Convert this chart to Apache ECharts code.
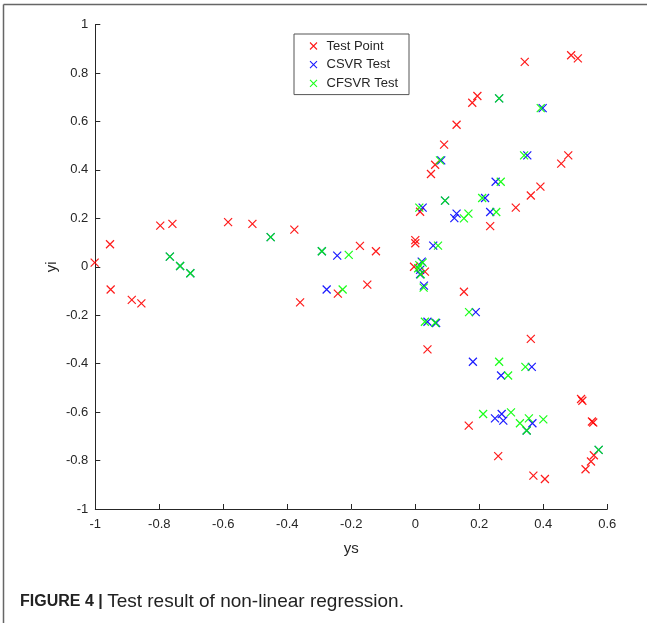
<!DOCTYPE html>
<html>
<head>
<meta charset="utf-8">
<script src="https://cdn.jsdelivr.net/npm/echarts@6/dist/echarts.min.js"></script>
<style>
  html, body { margin: 0; padding: 0; background: #fff; }
  #chart { width: 647px; height: 623px; }
</style>
</head>
<body>
<div id="chart"></div>
<script>
// series names
const seriesNames = ['Test Point', 'CSVR Test', 'CFSVR Test']

// test points [ys, yi]
const testPoint = [
  [-1.002, 0.017], [-0.954, 0.093], [-0.952, -0.094], [-0.886, -0.137], [-0.856, -0.151],
  [-0.797, 0.170], [-0.759, 0.177], [-0.585, 0.184], [-0.509, 0.177], [-0.378, 0.153],
  [-0.360, -0.147], [-0.242, -0.111], [-0.173, 0.086], [-0.150, -0.074], [-0.123, 0.064],
  [-0.004, 0.000], [0.000, 0.110], [0.000, 0.097], [0.015, 0.227], [0.030, -0.020],
  [0.038, -0.341], [0.049, 0.383], [0.062, 0.421], [0.090, 0.504], [0.129, 0.586],
  [0.152, -0.103], [0.167, -0.656], [0.178, 0.677], [0.194, 0.705], [0.234, 0.168],
  [0.259, -0.782], [0.314, 0.244], [0.342, 0.846], [0.361, 0.294], [0.361, -0.298],
  [0.369, -0.862], [0.391, 0.331], [0.405, -0.876], [0.456, 0.426], [0.478, 0.460],
  [0.487, 0.873], [0.508, 0.860], [0.518, -0.546], [0.522, -0.553], [0.532, -0.836],
  [0.549, -0.804], [0.552, -0.639], [0.556, -0.643], [0.558, -0.778]
]

const csvrTest = [
  [-0.767, 0.042], [-0.735, 0.003], [-0.703, -0.027], [-0.452, 0.122], [-0.292, 0.064],
  [-0.277, -0.094], [-0.244, 0.046], [0.015, -0.013], [0.015, -0.031], [0.020, 0.021],
  [0.023, 0.244], [0.027, -0.078], [0.038, -0.227], [0.056, 0.087], [0.065, -0.232],
  [0.081, 0.439], [0.093, 0.273], [0.122, 0.201], [0.129, 0.219], [0.180, -0.392],
  [0.189, -0.187], [0.218, 0.284], [0.234, 0.226], [0.249, -0.626], [0.251, 0.351],
  [0.262, 0.695], [0.268, -0.449], [0.270, -0.608], [0.275, -0.635], [0.350, 0.460],
  [0.348, -0.676], [0.364, -0.413], [0.366, -0.646], [0.398, 0.655], [0.573, -0.756]
]

const cfsvrTest = [
  [-0.767, 0.042], [-0.735, 0.003], [-0.703, -0.027], [-0.452, 0.122], [-0.292, 0.064],
  [-0.227, -0.094], [-0.208, 0.049], [0.009, -0.006], [0.0125, 0.007], [0.0125, 0.244],
  [0.017, -0.031], [0.023, 0.017], [0.026, -0.086], [0.030, -0.227], [0.062, -0.231],
  [0.071, 0.087], [0.077, 0.439], [0.093, 0.273], [0.152, 0.200], [0.166, 0.219],
  [0.168, -0.187], [0.209, 0.284], [0.212, -0.608], [0.253, 0.226], [0.262, -0.392],
  [0.262, 0.695], [0.267, 0.351], [0.290, -0.449], [0.299, -0.601], [0.327, -0.646],
  [0.340, 0.460], [0.344, -0.413], [0.348, -0.676], [0.355, -0.626], [0.392, 0.655],
  [0.400, -0.630], [0.573, -0.756]
]

const seriesColors = ['#ff0000', '#0000ff', '#00ff00']
const seriesData = [testPoint, csvrTest, cfsvrTest]

// 'x' marker
const crossPath = 'path://M0,0L10,10M10,0L0,10'
const fontFamily = '"Liberation Sans", Arial, Helvetica, sans-serif'
const textColor = '#262626'

const fmt = v => String(Math.round(v * 10) / 10)

const chart = echarts.init(document.getElementById('chart'), null, { renderer: 'canvas' })

const option = {
  animation: false,
  backgroundColor: '#fff',
  textStyle: { fontFamily: fontFamily },
  grid: { left: 95.3, right: 39.7, top: 24.5, bottom: 114, containLabel: false },
  xAxis: {
    type: 'value',
    min: -1,
    max: 0.6,
    interval: 0.2,
    name: 'ys',
    nameLocation: 'middle',
    nameGap: 32,
    nameTextStyle: { fontSize: 15, color: textColor, fontFamily: fontFamily },
    axisLine: { show: true, onZero: false, lineStyle: { color: '#262626', width: 1 } },
    axisTick: { show: true, inside: true, length: 5, lineStyle: { color: '#262626' } },
    axisLabel: { formatter: fmt, fontSize: 13, color: textColor, margin: 9, fontFamily: fontFamily },
    splitLine: { show: false }
  },
  yAxis: {
    type: 'value',
    min: -1,
    max: 1,
    interval: 0.2,
    name: 'yi',
    nameLocation: 'middle',
    nameGap: 36,
    nameRotate: 90,
    nameMoveOverlap: false,
    nameTextStyle: { fontSize: 15, color: textColor, fontFamily: fontFamily },
    axisLine: { show: true, onZero: false, lineStyle: { color: '#262626', width: 1 } },
    axisTick: { show: true, inside: true, length: 5, lineStyle: { color: '#262626' } },
    axisLabel: { formatter: fmt, fontSize: 13, color: textColor, margin: 7, fontFamily: fontFamily },
    splitLine: { show: false }
  },
  legend: {
    orient: 'vertical',
    left: 294,
    top: 34,
    padding: [5.5, 11, 4.7, 13.5],
    itemWidth: 7,
    itemHeight: 7,
    itemGap: 5.7,
    backgroundColor: '#fff',
    borderColor: '#555',
    borderWidth: 1,
    borderRadius: 0,
    textStyle: { fontSize: 13, color: textColor, padding: [0, 0, 0, 4.5], fontFamily: fontFamily },
    data: seriesNames.map((n, i) => ({
      name: n,
      icon: crossPath,
      itemStyle: { color: 'none', borderColor: seriesColors[i], borderWidth: 1.1 }
    }))
  },
  series: seriesNames.map((n, i) => ({
    name: n,
    type: 'scatter',
    data: seriesData[i],
    symbol: crossPath,
    symbolSize: 8,
    clip: false,
    itemStyle: { color: 'none', borderColor: seriesColors[i], borderWidth: 1.2, opacity: 0.9 },
    emphasis: { disabled: true }
  })),
  graphic: [
    // figure frame (top and left edges)
    { type: 'line', shape: { x1: 3.5, y1: 4.5, x2: 647, y2: 4.5 }, style: { stroke: '#666', lineWidth: 1.5 } },
    { type: 'line', shape: { x1: 3.5, y1: 4.5, x2: 3.5, y2: 623 }, style: { stroke: '#666', lineWidth: 1.5 } },
    {
      type: 'text',
      left: 20,
      top: 592,
      style: {
        text: '{b|FIGURE 4 |} {r|Test result of non-linear regression.}',
        rich: {
          b: { fontWeight: 'bold', fontSize: 16, fill: '#222', fontFamily: fontFamily },
          r: { fontSize: 19, fill: '#222', fontFamily: fontFamily }
        },
        fontSize: 16,
        fill: '#222',
        fontFamily: fontFamily
      }
    }
  ]
}

chart.setOption(option)
window.addEventListener('resize', () => chart.resize())
</script>
</body>
</html>
